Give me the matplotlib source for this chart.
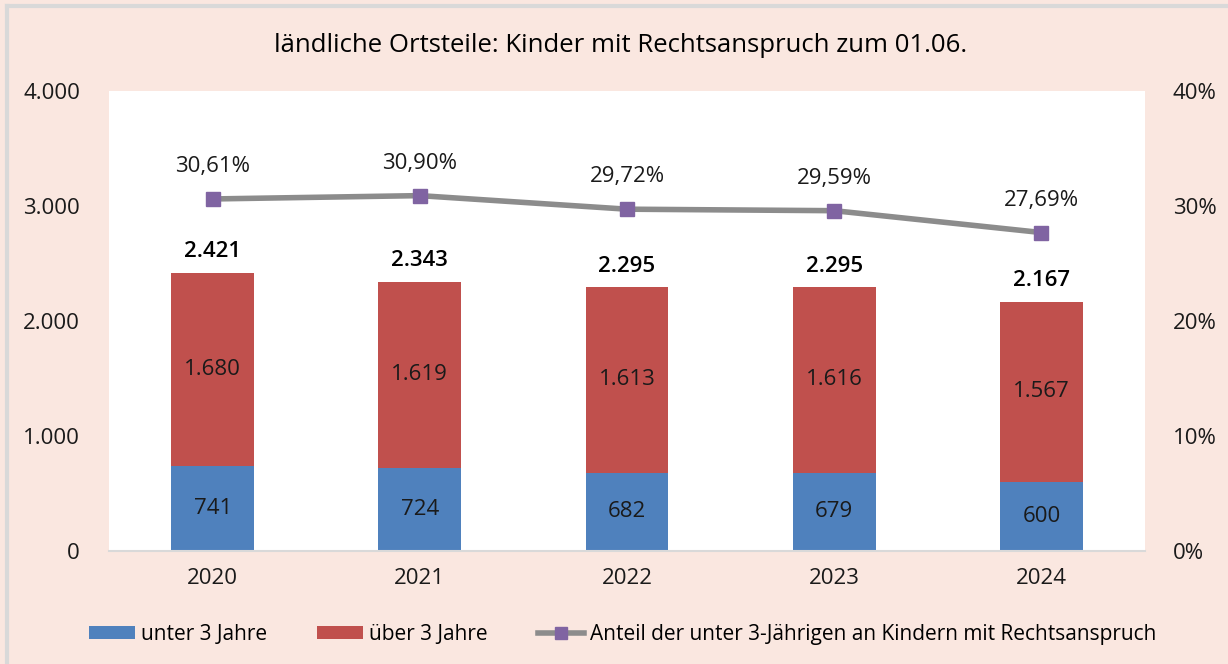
import numpy as np
import matplotlib.pyplot as plt
from matplotlib.lines import Line2D
from matplotlib.patches import Patch

plt.rcParams['font.family'] = ['Open Sans', 'DejaVu Sans']

# Daten
jahre = ['2020', '2021', '2022', '2023', '2024']
unter3 = [741, 724, 682, 679, 600]
ueber3 = [1680, 1619, 1613, 1616, 1567]
gesamt = [2421, 2343, 2295, 2295, 2167]
anteil = [30.61, 30.90, 29.72, 29.59, 27.69]

hintergrund = '#FAE7E0'
blau = '#4F81BD'
rot = '#C0504D'
grau = '#8C8C8C'
lila = '#8064A2'


def de_zahl(v):
    return f'{v:,.0f}'.replace(',', '.')


fig = plt.figure(figsize=(12.28, 6.64), dpi=100, facecolor=hintergrund)
ax = fig.add_axes([0.0888, 0.1702, 0.8436, 0.6928])
ax.set_facecolor('white')

x = np.arange(len(jahre))
breite = 0.4
ax.bar(x, unter3, breite, color=blau, zorder=2)
ax.bar(x, ueber3, breite, bottom=unter3, color=rot, zorder=2)

for i in range(len(jahre)):
    ax.text(x[i], unter3[i] / 2, de_zahl(unter3[i]), ha='center', va='center',
            fontsize=16, color='#1a1a1a')
    ax.text(x[i], unter3[i] + ueber3[i] / 2, de_zahl(ueber3[i]), ha='center',
            va='center', fontsize=16, color='#1a1a1a')
    ax.text(x[i], gesamt[i] + 90, de_zahl(gesamt[i]), ha='center', va='bottom',
            fontsize=16, fontweight='semibold', color='black')

ax.set_xlim(-0.5, len(jahre) - 0.5)
ax.set_ylim(0, 4000)
ax.set_yticks([0, 1000, 2000, 3000, 4000])
ax.set_yticklabels([de_zahl(v) for v in [0, 1000, 2000, 3000, 4000]])
ax.set_xticks(x)
ax.set_xticklabels(jahre)
ax.tick_params(axis='both', length=0, labelsize=16, colors='#1a1a1a')
ax.tick_params(axis='y', pad=21)
ax.tick_params(axis='x', pad=12)
for s in ['top', 'left', 'right']:
    ax.spines[s].set_visible(False)
ax.spines['bottom'].set_color('#D9D9D9')
ax.spines['bottom'].set_linewidth(1.5)

# Anteil auf rechter Achse
ax2 = ax.twinx()
ax2.plot(x, anteil, color=grau, linewidth=4, marker='s', markersize=10,
         markerfacecolor=lila, markeredgecolor=lila, zorder=3)
for i in range(len(jahre)):
    ax2.text(x[i], anteil[i] + 1.9, f'{anteil[i]:.2f}%'.replace('.', ','),
             ha='center', va='bottom', fontsize=16, color='#1a1a1a')
ax2.set_ylim(0, 40)
ax2.set_yticks([0, 10, 20, 30, 40])
ax2.set_yticklabels([f'{v}%' for v in [0, 10, 20, 30, 40]])
ax2.tick_params(axis='y', length=0, labelsize=16, colors='#1a1a1a', pad=20)
for s in ax2.spines.values():
    s.set_visible(False)

fig.text(0.505, 0.932, 'ländliche Ortsteile: Kinder mit Rechtsanspruch zum 01.06.',
         ha='center', va='center', fontsize=18.5, color='black')

handles = [
    Patch(facecolor=blau, label='unter 3 Jahre'),
    Patch(facecolor=rot, label='über 3 Jahre'),
    Line2D([0], [0], color=grau, linewidth=4, marker='s', markersize=9,
           markerfacecolor=lila, markeredgecolor=lila,
           label='Anteil der unter 3-Jährigen an Kindern mit Rechtsanspruch'),
]
fig.legend(handles=handles, loc='center', bbox_to_anchor=(0.507, 0.045), ncol=3,
           frameon=False, fontsize=15, handlelength=2.2, handleheight=0.6,
           handletextpad=0.3, columnspacing=2.4)

# Rahmen oben und links
fig.add_artist(Line2D([0.006, 1], [0.991, 0.991], color='#D9D9D9', linewidth=3,
                      transform=fig.transFigure))
fig.add_artist(Line2D([0.006, 0.006], [0, 0.991], color='#D9D9D9', linewidth=3,
                      transform=fig.transFigure))

fig.savefig('out.png', dpi=100, facecolor=hintergrund)
